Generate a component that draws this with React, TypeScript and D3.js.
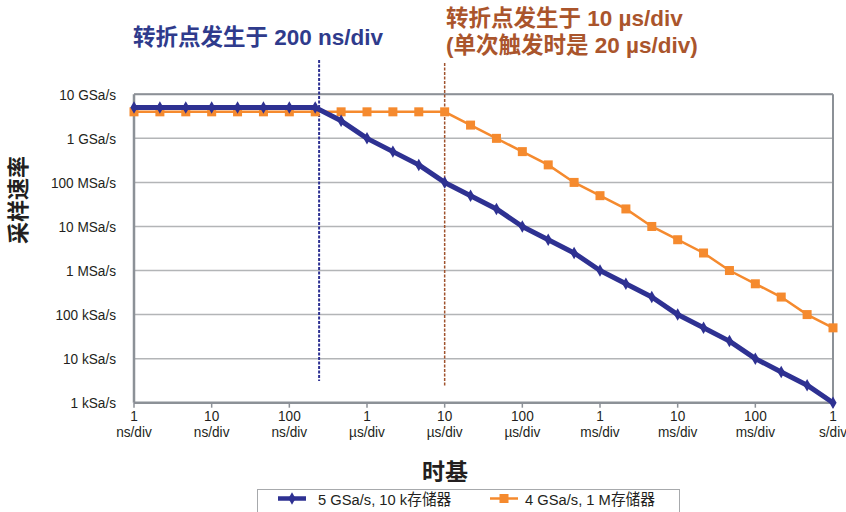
import React from "react";
import * as d3 from "d3";

const timebases = [
  "1 ns", "2 ns", "5 ns", "10 ns", "20 ns", "50 ns", "100 ns", "200 ns", "500 ns",
  "1 µs", "2 µs", "5 µs", "10 µs", "20 µs", "50 µs", "100 µs", "200 µs", "500 µs",
  "1 ms", "2 ms", "5 ms", "10 ms", "20 ms", "50 ms", "100 ms", "200 ms", "500 ms", "1 s",
];
const blueSeries = [
  5e9, 5e9, 5e9, 5e9, 5e9, 5e9, 5e9, 5e9, 2.5e9, 1e9, 5e8, 2.5e8, 1e8, 5e7,
  2.5e7, 1e7, 5e6, 2.5e6, 1e6, 5e5, 2.5e5, 1e5, 5e4, 2.5e4, 1e4, 5e3, 2.5e3, 1e3,
];
const orangeSeries = [
  4e9, 4e9, 4e9, 4e9, 4e9, 4e9, 4e9, 4e9, 4e9, 4e9, 4e9, 4e9, 4e9, 2e9,
  1e9, 5e8, 2.5e8, 1e8, 5e7, 2.5e7, 1e7, 5e6, 2.5e6, 1e6, 5e5, 2.5e5, 1e5, 5e4,
];
const xTickIndex = [0, 3, 6, 9, 12, 15, 18, 21, 24, 27];
const xTickTop = ["1", "10", "100", "1", "10", "100", "1", "10", "100", "1"];
const xTickBottom = [
  "ns/div", "ns/div", "ns/div", "µs/div", "µs/div", "µs/div",
  "ms/div", "ms/div", "ms/div", "s/div",
];
const yTickValues = [1e10, 1e9, 1e8, 1e7, 1e6, 1e5, 1e4, 1e3];
const yTickLabels = [
  "10 GSa/s", "1 GSa/s", "100 MSa/s", "10 MSa/s", "1 MSa/s",
  "100 kSa/s", "10 kSa/s", "1 kSa/s",
];
const breakpoints = [7.15, 12];
const seriesNames = ["5 GSa/s, 10 k存储器", "4 GSa/s, 1 M存储器"];

const BLUE = "#2e3192";
const ORANGE = "#f58a2e";
const BLUE_TEXT = "#2f3b8c";
const BROWN_TEXT = "#aa552c";
const SANS = "'Liberation Sans', Arial, sans-serif";
const CJK = "'Liberation Sans', 'Noto Sans CJK SC', sans-serif";
const INK = "#231f20";
const SQX = 0.88;

export default function App() {
  const W = 846, H = 512;
  const left = 134, right = 833, top = 94.3, bottom = 402.7;

  const x = d3.scaleLinear().domain([0, timebases.length - 1]).range([left, right]);
  const y = d3.scaleLog().domain([1e3, 1e10]).range([bottom, top]);

  const line = d3.line<number>().x((_, i) => x(i)).y((d) => y(d));

  const diamond = d3.symbol().type(d3.symbolDiamond).size(45)();

  return (
    <svg
      width={W}
      height={H}
      style={{ position: "absolute", left: 0, top: 0, background: "#fff" }}
    >
      {/* Titles */}
      <text x={133} y={45} fill={BLUE_TEXT} fontFamily={CJK} fontWeight="bold" fontSize={22.5}>
        转折点发生于 200 ns/div
      </text>
      <text x={446} y={26} fill={BROWN_TEXT} fontFamily={CJK} fontWeight="bold" fontSize={22.5}>
        转折点发生于 10 µs/div
      </text>
      <text x={446} y={53} fill={BROWN_TEXT} fontFamily={CJK} fontWeight="bold" fontSize={22.5}>
        (单次触发时是 20 µs/div)
      </text>

      {/* gridlines */}
      {yTickValues.map((v) => (
        <line key={v} x1={left} x2={right} y1={y(v)} y2={y(v)} stroke="#b3b5b7" strokeWidth={1.5} />
      ))}
      {/* frame */}
      <line x1={right} x2={right} y1={top} y2={bottom} stroke="#8c9197" strokeWidth={2} />
      <line x1={left} x2={right} y1={top} y2={top} stroke="#8c9197" strokeWidth={2} />
      <line x1={left} x2={left} y1={top} y2={bottom} stroke="#8c9197" strokeWidth={2.5} />
      <line x1={left} x2={right} y1={bottom} y2={bottom} stroke="#8c9197" strokeWidth={2.5} />

      {/* y ticks */}
      {yTickValues.map((v, i) => (
        <text
          key={"yl" + v}
          transform={`translate(116,${y(v)}) scale(${SQX},1)`}
          dy="0.35em"
          textAnchor="end"
          fontFamily={SANS}
          fontSize={15.5}
          fill={INK}
        >
          {yTickLabels[i]}
        </text>
      ))}

      {/* x ticks */}
      {xTickIndex.map((idx, i) => (
        <g key={"xt" + idx} transform={`translate(${x(idx)},0)`}>
          <line y1={bottom} y2={bottom + 5} stroke="#8c9197" strokeWidth={1.5} />
          <text transform={`translate(0,421) scale(${SQX},1)`} textAnchor="middle" fontFamily={SANS} fontSize={15.5} fill={INK}>
            {xTickTop[i]}
          </text>
          <text transform={`translate(0,437) scale(${SQX},1)`} textAnchor="middle" fontFamily={SANS} fontSize={15.5} fill={INK}>
            {xTickBottom[i]}
          </text>
        </g>
      ))}

      {/* break point dashed lines */}
      <line
        x1={x(breakpoints[0])}
        x2={x(breakpoints[0])}
        y1={60}
        y2={381}
        stroke={BLUE}
        strokeWidth={2}
        strokeDasharray="3 1.5"
      />
      <line
        x1={x(breakpoints[1])}
        x2={x(breakpoints[1])}
        y1={63}
        y2={387}
        stroke="#a0522d"
        strokeWidth={1.5}
        strokeDasharray="3 1.5"
      />

      {/* orange series */}
      <path d={line(orangeSeries) || ""} fill="none" stroke={ORANGE} strokeWidth={2.5} />
      {orangeSeries.map((v, i) => (
        <rect key={"o" + i} x={x(i) - 4.5} y={y(v) - 4.5} width={9} height={9} fill={ORANGE} />
      ))}

      {/* blue series */}
      <path d={line(blueSeries) || ""} fill="none" stroke={BLUE} strokeWidth={5} strokeLinejoin="round" />
      {blueSeries.map((v, i) => (
        <path key={"b" + i} d={diamond || ""} transform={`translate(${x(i)},${y(v)})`} fill={BLUE} />
      ))}

      {/* axis titles */}
      <text
        transform="translate(26,200) rotate(-90)"
        textAnchor="middle"
        fontFamily={CJK}
        fontWeight="bold"
        fontSize={22}
        fill={INK}
      >
        采样速率
      </text>
      <text x={445} y={480} textAnchor="middle" fontFamily={CJK} fontWeight="bold" fontSize={23} fill={INK}>
        时基
      </text>

      {/* legend */}
      <rect x={257.5} y={489.5} width={422} height={30} fill="none" stroke="#a7a9ac" strokeWidth={1} />
      <line x1={278} x2={306} y1={498.5} y2={498.5} stroke={BLUE} strokeWidth={4.5} />
      <path d={diamond || ""} transform="translate(292,498.5)" fill={BLUE} />
      <text transform="translate(318,505) scale(0.95,1)" fontFamily={CJK} fontSize={15.5} fill={INK}>
        {seriesNames[0]}
      </text>
      <line x1={490} x2={518} y1={498.5} y2={498.5} stroke={ORANGE} strokeWidth={2.5} />
      <rect x={499.5} y={494} width={9} height={9} fill={ORANGE} />
      <text transform="translate(525,505) scale(0.95,1)" fontFamily={CJK} fontSize={15.5} fill={INK}>
        {seriesNames[1]}
      </text>
    </svg>
  );
}
